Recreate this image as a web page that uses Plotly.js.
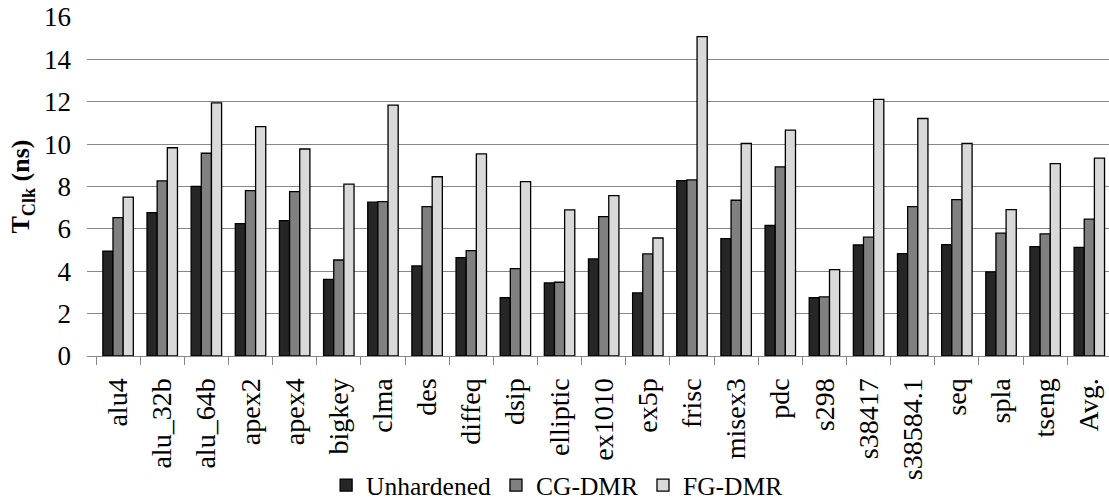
<!DOCTYPE html>
<html>
<head>
<meta charset="utf-8">
<script src="https://cdn.plot.ly/plotly-3.0.1.min.js"></script>
<style>html,body{margin:0;padding:0;background:#fff;overflow:hidden}</style>
</head>
<body>
<div id="chart" style="width:1109px;height:501px"></div>
<script>
const categories = ["alu4","alu_32b","alu_64b","apex2","apex4","bigkey","clma","des","diffeq","dsip","elliptic","ex1010","ex5p","frisc","misex3","pdc","s298","s38417","s38584.1","seq","spla","tseng","Avg."];
const unhardened = [4.95,6.77,8.01,6.25,6.39,3.62,7.26,4.25,4.64,2.75,3.45,4.58,2.98,8.28,5.54,6.16,2.75,5.24,4.83,5.26,3.97,5.16,5.13];
const cgDMR      = [6.53,8.27,9.57,7.81,7.76,4.53,7.29,7.05,4.97,4.12,3.48,6.58,4.82,8.31,7.35,8.93,2.79,5.61,7.05,7.38,5.80,5.76,6.46];
const fgDMR      = [7.50,9.83,11.95,10.83,9.77,8.11,11.84,8.46,9.54,8.23,6.90,7.57,5.57,15.07,10.03,10.66,4.08,12.11,11.21,10.03,6.91,9.08,9.34];
const seriesNames = ["Unhardened","CG-DMR","FG-DMR"];
const seriesColors = ["#262626","#808080","#d9d9d9"];

const FONT = "Liberation Serif, Times New Roman, serif";
const data = [unhardened, cgDMR, fgDMR].map((vals, i) => ({
  type: "bar",
  name: seriesNames[i],
  x: categories,
  y: vals,
  marker: {color: seriesColors[i], line: {color: "#000", width: 1.3}},
  hoverinfo: "x+y+name"
}));

const layout = {
  width: 1109, height: 501,
  margin: {l: 87, r: 0, t: 17, b: 145, autoexpand: false},
  paper_bgcolor: "#fff", plot_bgcolor: "#fff",
  font: {family: FONT, color: "#000", size: 26},
  barmode: "group",
  bargap: 0.31,
  bargroupgap: 0,
  showlegend: true,
  legend: {
    orientation: "h", x: 0.46, xanchor: "center",
    yref: "container", y: 0.031, yanchor: "middle",
    font: {family: FONT, size: 25.5, color: "#000"},
    itemwidth: 30, traceorder: "normal"
  },
  xaxis: {
    type: "category",
    range: [-0.704, 22.446],
    tickson: "boundaries",
    ticks: "outside", ticklen: 8, tickwidth: 1.3, tickcolor: "#878787",
    showline: true, linecolor: "#878787", linewidth: 1.3,
    showgrid: false, zeroline: false,
    tickangle: -90,
    ticklabelstandoff: 10,
    automargin: false,
    tickfont: {family: FONT, size: 28, color: "#000"},
    fixedrange: true
  },
  yaxis: {
    range: [0, 16], dtick: 2, tick0: 0,
    showgrid: true, gridcolor: "#878787", gridwidth: 1.3,
    zeroline: false, showline: false,
    ticks: "", ticklabelstandoff: 15,
    automargin: false,
    tickfont: {family: FONT, size: 27, color: "#000"},
    title: {text: "<b>T<sub>Clk</sub> (ns)</b>", font: {family: FONT, size: 26, color: "#000"}, standoff: 6},
    fixedrange: true
  }
};

Plotly.newPlot("chart", data, layout, {displayModeBar: false});
</script>
</body>
</html>
